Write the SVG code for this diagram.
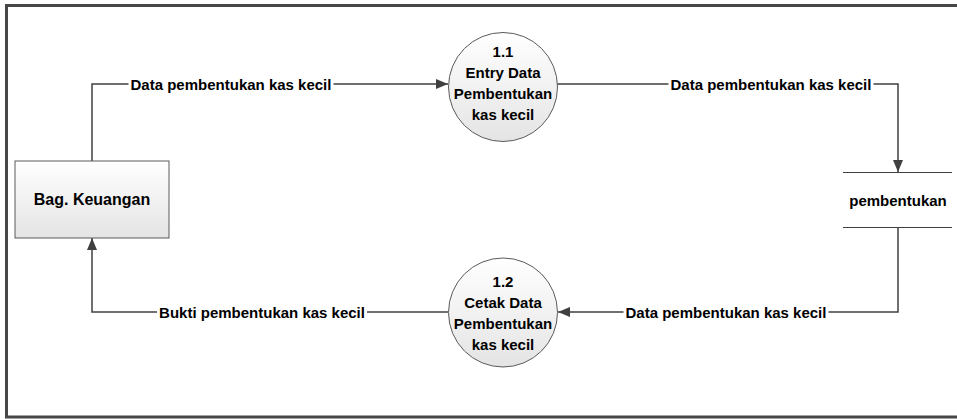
<svg xmlns="http://www.w3.org/2000/svg" width="957" height="419" viewBox="0 0 957 419">
  <style>
    .frame { fill: #ffffff; stroke: #474747; stroke-width: 3; }
    .shape { stroke: #5a5a5a; stroke-width: 1; }
    .flow { fill: none; stroke: #404040; stroke-width: 1.5; }
    .store { stroke: #404040; stroke-width: 1.2; }
    .lbl { font-family: "Liberation Sans", Arial, sans-serif; font-weight: bold; font-size: 15px; fill: #000000; text-anchor: middle; }
    .big { font-size: 16px; }
    .mask { fill: #ffffff; }
  </style>
  <defs>
    <linearGradient id="fillGrad" x1="0" y1="0" x2="0" y2="1">
      <stop offset="0" stop-color="#ffffff"/>
      <stop offset="1" stop-color="#e4e4e4"/>
    </linearGradient>
    <marker id="arrow" viewBox="0 0 12 10" refX="12" refY="5" markerWidth="12" markerHeight="10" markerUnits="userSpaceOnUse" orient="auto">
      <path d="M0,0 L12,5 L0,10 Z" fill="#404040"/>
    </marker>
  </defs>

  <!-- outer frame -->
  <rect class="frame" x="6.5" y="5.5" width="960" height="411.5"/>

  <!-- data flows -->
  <g id="connectors">
    <path class="flow" d="M92,161 L92,84 L448,84" marker-end="url(#arrow)"/>
    <rect class="mask" x="128.5" y="75" width="205" height="18"/>
    <text class="lbl" x="231" y="89.5">Data pembentukan kas kecil</text>

    <path class="flow" d="M557,84 L898,84 L898,172" marker-end="url(#arrow)"/>
    <rect class="mask" x="668.5" y="75" width="205" height="18"/>
    <text class="lbl" x="771" y="89.5">Data pembentukan kas kecil</text>

    <path class="flow" d="M898,228 L898,312 L558,312" marker-end="url(#arrow)"/>
    <rect class="mask" x="623.5" y="303" width="205" height="18"/>
    <text class="lbl" x="726" y="317.5">Data pembentukan kas kecil</text>

    <path class="flow" d="M448,312 L92,312 L92,238" marker-end="url(#arrow)"/>
    <rect class="mask" x="157" y="303" width="210" height="18"/>
    <text class="lbl" x="262" y="317.5">Bukti pembentukan kas kecil</text>
  </g>

  <!-- external entity -->
  <g id="bag-keuangan">
    <rect class="shape" x="15" y="161" width="154" height="77" fill="url(#fillGrad)"/>
    <text class="lbl big" x="92" y="205">Bag. Keuangan</text>
  </g>

  <!-- process 1.1 -->
  <g id="proc-1-1">
    <circle class="shape" cx="503" cy="87" r="54.5" fill="url(#fillGrad)"/>
    <text class="lbl" x="503" y="57">1.1</text>
    <text class="lbl" x="503" y="78">Entry Data</text>
    <text class="lbl" x="503" y="99">Pembentukan</text>
    <text class="lbl" x="503" y="120">kas kecil</text>
  </g>

  <!-- process 1.2 -->
  <g id="proc-1-2">
    <circle class="shape" cx="503" cy="312.5" r="54.5" fill="url(#fillGrad)"/>
    <text class="lbl" x="503" y="287">1.2</text>
    <text class="lbl" x="503" y="308">Cetak Data</text>
    <text class="lbl" x="503" y="329">Pembentukan</text>
    <text class="lbl" x="503" y="350">kas kecil</text>
  </g>

  <!-- data store -->
  <g id="store-pembentukan">
    <line class="store" x1="843" y1="172.5" x2="952" y2="172.5"/>
    <line class="store" x1="843" y1="227.5" x2="952" y2="227.5"/>
    <text class="lbl" x="898" y="206">pembentukan</text>
  </g>
</svg>
